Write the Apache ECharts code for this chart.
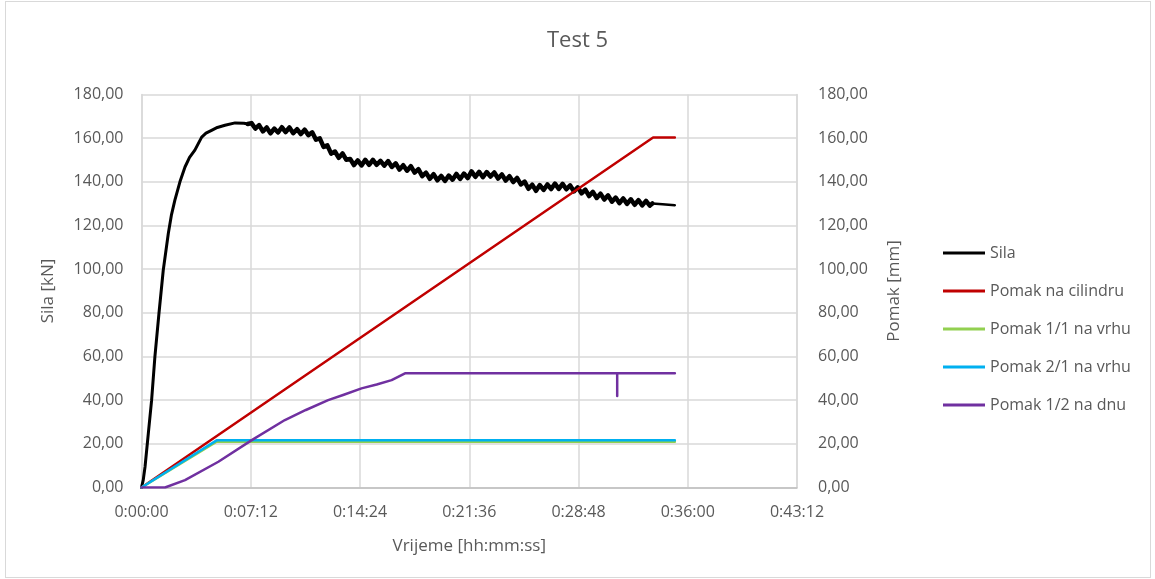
<!DOCTYPE html>
<html>
<head>
<meta charset="utf-8">
<title>Test 5</title>
<script src="https://cdn.jsdelivr.net/npm/echarts@6/dist/echarts.min.js"></script>
<style>
  html, body { margin: 0; padding: 0; background: #fff; }
  #main { position: absolute; left: 0; top: 0; width: 1155px; height: 579px; }
  #frame { position: absolute; left: 5px; top: 1px; width: 1144px; height: 575px; border: 1px solid #d9d9d9; pointer-events: none; }
</style>
</head>
<body>
<div id="main"></div>
<div id="frame"></div>
<script>
// time in seconds
// Sila split in three pieces: smooth rise, noisy middle, smooth tail
var silaRise = [
  [0, 0], [7, 3.5], [14, 9.5], [27, 24.8], [40, 40], [53, 59.9], [69, 79.7], [86, 99.5],
  [106, 116.3], [118, 124.6], [132, 131.6], [152, 140], [172, 146.8], [190, 151.2], [211, 154.5],
  [238, 160.5], [255, 162.3], [277, 163.6], [300, 164.9], [330, 165.9], [370, 167], [405, 166.8],
  [420, 166.5]
];
var silaNoisy = [
  [420, 166.5],
  [435, 166.9], [450, 164.4], [465, 166.0], [480, 163.1], [495, 164.9], [510, 162.2],
  [525, 164.4], [540, 162.6], [555, 165.0], [570, 162.8], [585, 164.9], [600, 162.3],
  [615, 164.1], [630, 161.9], [645, 163.9], [660, 161.4], [675, 162.7], [690, 159.3],
  [705, 159.9], [720, 156.0], [735, 156.7], [750, 152.9], [765, 153.9], [780, 151.0],
  [795, 153.0], [810, 150.1], [825, 150.5], [840, 147.7], [855, 149.8], [870, 147.5],
  [885, 150.1], [900, 147.8], [915, 150.1], [930, 147.8], [945, 149.6], [960, 147.4],
  [975, 149.5], [990, 146.8], [1005, 148.5], [1020, 145.6], [1035, 147.6], [1050, 145.1],
  [1065, 147.2], [1080, 144.2], [1095, 145.8], [1110, 142.6], [1125, 144.2], [1140, 141.4],
  [1155, 143.5], [1170, 140.7], [1185, 142.7], [1200, 140.4], [1215, 142.9], [1230, 141.0],
  [1245, 143.6], [1260, 141.3], [1275, 143.8], [1290, 141.7], [1305, 144.8], [1320, 142.3],
  [1335, 144.6], [1350, 142.1], [1365, 144.5], [1380, 142.4], [1395, 144.3], [1410, 141.5],
  [1425, 143.4], [1440, 140.6], [1455, 142.6], [1470, 139.9], [1485, 141.8], [1500, 138.8],
  [1515, 140.1], [1530, 136.8], [1545, 138.7], [1560, 135.9], [1575, 138.5], [1590, 136.3],
  [1605, 138.8], [1620, 136.7], [1635, 139.2], [1650, 136.8], [1665, 139.1], [1680, 136.6],
  [1695, 138.4], [1710, 135.6], [1725, 137.5], [1740, 134.7], [1755, 136.4], [1770, 133.5],
  [1785, 135.4], [1800, 132.6], [1815, 134.6], [1830, 131.9], [1845, 133.8], [1860, 130.9],
  [1875, 132.8], [1890, 130.2], [1905, 132.4], [1920, 129.9], [1935, 132.0], [1950, 129.5],
  [1965, 131.6], [1980, 129.2], [1995, 131.3], [2010, 129.1], [2020, 130.1]
];
var silaTail = [[2020, 130.1], [2060, 129.7], [2109, 129.3]];
var cilindarData = [[0, 0], [2023, 160.3], [2109, 160.3]];
var vrh11Data = [[0, 0], [297, 21.0], [2109, 21.0]];
var vrh21Data = [[0, 0], [297, 21.6], [2109, 21.6]];
var dno12Data = [
  [0, 0], [93, 0], [172, 3.4], [304, 11.8], [436, 21.7], [567, 30.9], [650, 35.5],
  [738, 40], [800, 42.5], [870, 45.4], [930, 47.2], [989, 49.2], [1042, 52.3],
  [1881, 52.3], [1881, 41.9], [1881, 52.3], [2109, 52.3]
];
var seriesNames = ['Sila', 'Pomak na cilindru', 'Pomak 1/1 na vrhu', 'Pomak 2/1 na vrhu', 'Pomak 1/2 na dnu'];
var seriesColors = ['#000000', '#c00000', '#92d050', '#00b0f0', '#7030a0'];

var txt = '#595959';
var font = '"Open Sans", "Noto Sans", sans-serif';

function fmtNum(v) {
  return v.toFixed(2).replace('.', ',');
}
function fmtTime(s) {
  var h = Math.floor(s / 3600);
  var m = Math.floor((s % 3600) / 60);
  var sec = Math.round(s % 60);
  return h + ':' + (m < 10 ? '0' : '') + m + ':' + (sec < 10 ? '0' : '') + sec;
}

var chart = echarts.init(document.getElementById('main'));

function lineSeries(i, data, axis, width) {
  return {
    name: seriesNames[i],
    type: 'line',
    yAxisIndex: axis,
    data: data,
    symbol: 'none',
    animation: false,
    lineStyle: { color: seriesColors[i], width: width || 2.5, join: 'round', cap: 'round' },
    itemStyle: { color: seriesColors[i] }
  };
}

var option = {
  textStyle: { fontFamily: font },
  title: {
    text: 'Test 5',
    left: 'center',
    top: 30,
    padding: 0,
    textStyle: { color: txt, fontSize: 22, fontWeight: 'normal', fontFamily: font }
  },
  legend: {
    orient: 'vertical',
    left: 943,
    top: 245,
    padding: 0,
    icon: 'rect',
    itemWidth: 42,
    itemHeight: 3,
    itemGap: 22,
    data: seriesNames,
    textStyle: { color: txt, fontSize: 16, fontFamily: font }
  },
  grid: { left: 141.5, right: 358, top: 94.5, bottom: 91.5 },
  xAxis: {
    type: 'value',
    min: 0,
    max: 2592,
    interval: 432,
    name: 'Vrijeme [hh:mm:ss]',
    nameLocation: 'middle',
    nameGap: 50,
    nameTextStyle: { color: txt, fontSize: 17, fontFamily: font },
    axisLine: { show: true, lineStyle: { color: '#bfbfbf', width: 1.5 } },
    axisTick: { show: false },
    axisLabel: { color: txt, fontSize: 16, margin: 17, formatter: fmtTime },
    splitLine: { show: true, lineStyle: { color: '#d9d9d9', width: 1.5 } }
  },
  yAxis: [
    {
      type: 'value',
      min: 0,
      max: 180,
      interval: 20,
      name: 'Sila [kN]',
      nameLocation: 'middle',
      nameRotate: 90,
      nameGap: 85,
      nameTextStyle: { color: txt, fontSize: 17, fontFamily: font },
      axisLine: { show: true, lineStyle: { color: '#d9d9d9', width: 1.5 } },
      axisTick: { show: false },
      axisLabel: { color: txt, fontSize: 16, margin: 18, formatter: fmtNum },
      splitLine: { show: true, lineStyle: { color: '#d9d9d9', width: 1.5 } }
    },
    {
      type: 'value',
      position: 'right',
      min: 0,
      max: 180,
      interval: 20,
      name: 'Pomak [mm]',
      nameLocation: 'middle',
      nameRotate: 90,
      nameGap: 89,
      nameTextStyle: { color: txt, fontSize: 17, fontFamily: font },
      axisLine: { show: true, lineStyle: { color: '#d9d9d9', width: 1.5 } },
      axisTick: { show: false },
      axisLabel: { color: txt, fontSize: 16, margin: 21, formatter: fmtNum },
      splitLine: { show: false }
    }
  ],
  series: [
    lineSeries(0, silaRise, 0, 3),
    lineSeries(0, silaNoisy, 0, 4.5),
    lineSeries(0, silaTail, 0, 2.5),
    lineSeries(1, cilindarData, 1),
    lineSeries(2, vrh11Data, 1),
    lineSeries(3, vrh21Data, 1),
    lineSeries(4, dno12Data, 1)
  ]
};

chart.setOption(option);
</script>
</body>
</html>
